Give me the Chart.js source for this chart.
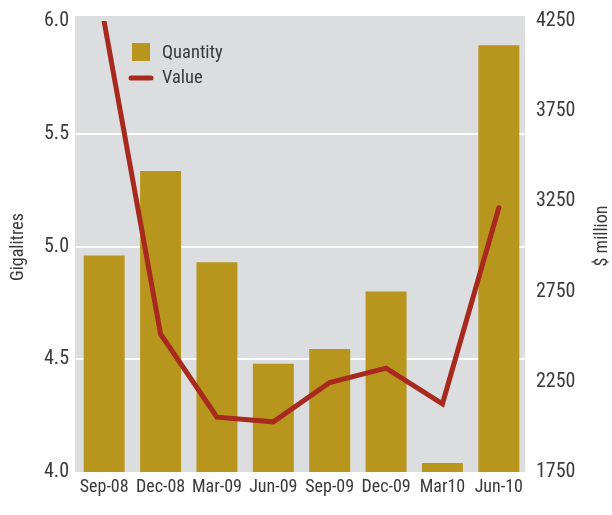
<!DOCTYPE html>
<html>
<head>
<meta charset="utf-8">
<script src="https://cdn.jsdelivr.net/npm/chart.js@4"></script>
<style>
  html, body { margin: 0; padding: 0; background: #fff; }
  #wrap { width: 612px; height: 515px; }
</style>
</head>
<body>
<div id="wrap"><canvas id="chart" width="612" height="515"></canvas></div>
<script>
const categories = ['Sep-08', 'Dec-08', 'Mar-09', 'Jun-09', 'Sep-09', 'Dec-09', 'Mar10', 'Jun-10'];
const quantity = [4.96, 5.335, 4.93, 4.48, 4.545, 4.80, 4.04, 5.893];
const value = [4245, 2515, 2054, 2028, 2246, 2326, 2128, 3215];
const leftTicks = [4.0, 4.5, 5.0, 5.5, 6.0];
const rightTicks = [1750, 2250, 2750, 3250, 3750, 4250];

const FONT = '"Roboto Condensed", "Liberation Sans Narrow", "DejaVu Sans Condensed", sans-serif';
const TEXT = '#3a3a3a';
const BAR = '#b8961e';
const LINE = '#a8291d';
const PLOT_BG = '#dcdddf';

// grey plot background, slightly taller than the scale at the top
const plotBg = {
    id: 'plotBg',
    beforeDraw(chart) {
        const { ctx, chartArea: a } = chart;
        ctx.save();
        ctx.fillStyle = PLOT_BG;
        ctx.fillRect(a.left - 1, a.top - 5, a.right - a.left - 1, a.bottom - a.top + 5);
        ctx.restore();
    }
};

// legend and axis titles
const extras = {
    id: 'extras',
    afterDraw(chart) {
        const { ctx } = chart;
        ctx.save();
        ctx.font = '18.5px ' + FONT;
        ctx.textBaseline = 'middle';
        ctx.textAlign = 'left';
        ctx.fillStyle = BAR;
        ctx.fillRect(132, 43, 18, 18);
        ctx.strokeStyle = LINE;
        ctx.lineWidth = 5;
        ctx.lineCap = 'round';
        ctx.beginPath();
        ctx.moveTo(131, 78);
        ctx.lineTo(151, 78);
        ctx.stroke();
        ctx.fillStyle = TEXT;
        ctx.fillText('Quantity', 162, 53);
        ctx.fillText('Value', 162, 78);

        ctx.font = '18px ' + FONT;
        ctx.textAlign = 'center';
        ctx.translate(18, 247);
        ctx.rotate(-Math.PI / 2);
        ctx.fillText('Gigalitres', 0, 0);
        ctx.restore();

        ctx.save();
        ctx.fillStyle = TEXT;
        ctx.font = '18px ' + FONT;
        ctx.textAlign = 'center';
        ctx.textBaseline = 'middle';
        ctx.translate(602, 236);
        ctx.rotate(-Math.PI / 2);
        ctx.fillText('$ million', 0, 0);
        ctx.restore();
    }
};

new Chart(document.getElementById('chart'), {
    type: 'bar',
    data: {
        labels: categories,
        datasets: [
            {
                type: 'line',
                label: 'Value',
                data: value,
                yAxisID: 'y1',
                borderColor: LINE,
                borderWidth: 5,
                borderCapStyle: 'round',
                borderJoinStyle: 'miter',
                pointRadius: 0,
                tension: 0,
                order: 0
            },
            {
                label: 'Quantity',
                data: quantity,
                yAxisID: 'y',
                backgroundColor: BAR,
                barPercentage: 0.727,
                categoryPercentage: 1,
                order: 1
            }
        ]
    },
    options: {
        responsive: false,
        animation: false,
        layout: { padding: { top: 21, left: 0, right: 0, bottom: 0 } },
        plugins: { legend: { display: false }, tooltip: { enabled: false } },
        scales: {
            x: {
                grid: { display: false, drawTicks: false },
                border: { display: false },
                ticks: { color: TEXT, font: { family: FONT, size: 18 }, padding: 5, maxRotation: 0, autoSkip: false },
                afterFit: s => { s.height = 43; }
            },
            y: {
                position: 'left',
                min: 4, max: 6,
                afterBuildTicks: s => { s.ticks = leftTicks.map(v => ({ value: v })); },
                grid: {
                    color: c => (c.tick && (c.tick.value === 4 || c.tick.value === 6)) ? 'rgba(0,0,0,0)' : '#ffffff',
                    lineWidth: 2,
                    drawTicks: false
                },
                border: { display: false },
                ticks: { color: TEXT, font: { family: FONT, size: 20 }, padding: 7, callback: v => v.toFixed(1) },
                afterFit: s => { s.width = 76; }
            },
            y1: {
                position: 'right',
                min: 1750, max: 4250,
                afterBuildTicks: s => { s.ticks = rightTicks.map(v => ({ value: v })); },
                grid: { display: false, drawTicks: false },
                border: { display: false },
                ticks: { color: TEXT, font: { family: FONT, size: 20 }, padding: 9, callback: v => String(v) },
                afterFit: s => { s.width = 85; }
            }
        }
    },
    plugins: [plotBg, extras]
});
</script>
</body>
</html>
